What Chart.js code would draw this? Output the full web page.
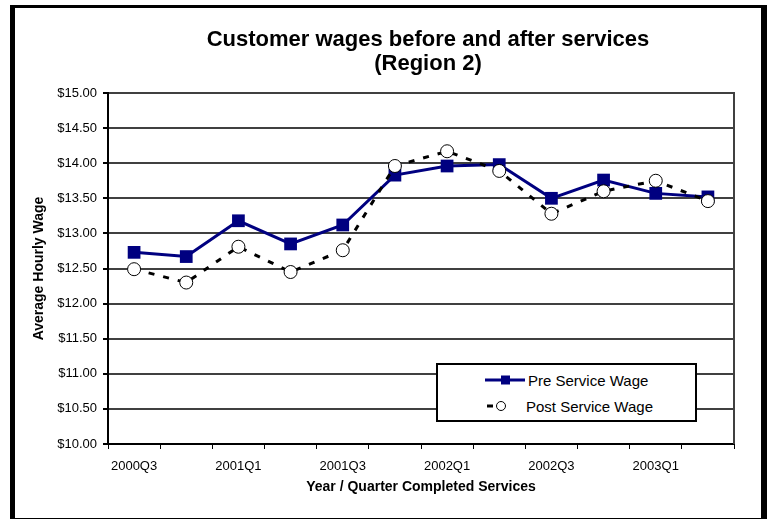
<!DOCTYPE html>
<html>
<head>
<meta charset="utf-8">
<script src="https://cdn.jsdelivr.net/npm/chart.js@4"></script>
<style>
  body { margin: 0; background: #fff; font-family: "Liberation Sans", Arial, sans-serif; }
  #wrap { position: relative; width: 767px; height: 519px; }
  #frame { position: absolute; left: 10px; top: 5px; width: 757px; height: 514px; box-sizing: border-box;
    border-style: solid; border-color: #000; border-width: 3px 6px 1px 5px; pointer-events: none; }
  #legend { position: absolute; left: 436px; top: 363px; width: 261px; height: 59px; box-sizing: border-box;
    border: 2px solid #000; background: #fff; font-size: 15px; }
  .row { position: absolute; left: 0; height: 20px; display: flex; align-items: center; }
  .row svg { margin-left: 47px; }
  .row span { margin-left: 1px; }
</style>
</head>
<body>
<div id="wrap">
  <canvas id="wageChart" width="767" height="519"></canvas>
  <div id="legend">
    <div class="row" style="top:5px">
      <svg width="42" height="12"><line x1="0" y1="6" x2="40" y2="6" stroke="#000080" stroke-width="3"/><rect x="16" y="1.5" width="9" height="9" fill="#000080"/></svg>
      <span>Pre Service Wage</span>
    </div>
    <div class="row" style="top:31px">
      <svg width="42" height="12"><line x1="2" y1="6" x2="8" y2="6" stroke="#000" stroke-width="3"/><circle cx="16" cy="6" r="4.5" fill="#fff" stroke="#000" stroke-width="1"/></svg>
      <span style="margin-left:-1px">Post Service Wage</span>
    </div>
  </div>
  <div id="frame"></div>
</div>
<script>
var quarters = ['2000Q3', '2000Q4', '2001Q1', '2001Q2', '2001Q3', '2001Q4',
                '2002Q1', '2002Q2', '2002Q3', '2002Q4', '2003Q1', '2003Q2'];
var preWage  = [12.73, 12.67, 13.18, 12.85, 13.12, 13.83, 13.96, 13.98, 13.50, 13.76, 13.57, 13.52];
var postWage = [12.49, 12.30, 12.81, 12.45, 12.76, 13.96, 14.17, 13.89, 13.28, 13.60, 13.75, 13.46];
var titleLines = ['Customer wages before and after services', '(Region 2)'];

var FONT = '"Liberation Sans", Arial, sans-serif';
Chart.defaults.font.family = FONT;
Chart.defaults.color = '#000';

var framePlugin = {
  id: 'titleText',
  beforeDatasetsDraw: function (chart) {
    // grey right edge of the plot area
    var a = chart.chartArea, ctx = chart.ctx;
    ctx.save();
    ctx.strokeStyle = '#404040';
    ctx.lineWidth = 2;
    ctx.beginPath();
    ctx.moveTo(a.right, a.top - 1);
    ctx.lineTo(a.right, a.bottom);
    ctx.stroke();
    ctx.restore();
  },
  afterDraw: function (chart) {
    var ctx = chart.ctx;
    ctx.save();
    ctx.font = 'bold 22px ' + FONT;
    ctx.fillStyle = '#000';
    ctx.textAlign = 'center';
    ctx.textBaseline = 'middle';
    ctx.fillText(titleLines[0], 428, 40);
    ctx.fillText(titleLines[1], 428, 64);
    ctx.restore();
  }
};

var ctx = document.getElementById('wageChart').getContext('2d');
var wageChart = new Chart(ctx, {
  type: 'line',
  data: {
    labels: quarters,
    datasets: [{
      label: 'Post Service Wage',
      data: postWage,
      borderColor: '#000',
      borderWidth: 3,
      borderDash: [6, 9],
      pointStyle: 'circle',
      pointRadius: 6.5,
      pointBackgroundColor: '#fff',
      pointBorderColor: '#000',
      pointBorderWidth: 1,
      tension: 0,
      order: 1
    }, {
      label: 'Pre Service Wage',
      data: preWage,
      borderColor: '#000080',
      borderWidth: 3,
      pointStyle: 'rect',
      pointRadius: 9,
      pointBackgroundColor: '#000080',
      pointBorderColor: '#000080',
      pointBorderWidth: 0,
      tension: 0,
      order: 2
    }]
  },
  options: {
    responsive: false,
    animation: false,
    layout: { padding: { left: 27, top: 93, right: 33, bottom: 19 } },
    plugins: { legend: { display: false }, tooltip: { enabled: false }, title: { display: false } },
    scales: {
      x: {
        offset: true,
        grid: {
          offset: true,
          drawOnChartArea: false,
          color: '#000',
          tickLength: 5
        },
        border: { color: '#000', width: 2 },
        ticks: {
          autoSkip: false,
          maxRotation: 0,
          padding: 10,
          font: { size: 13 },
          callback: function (v, i) { return i % 2 === 0 ? quarters[i] : ''; }
        },
        title: { display: true, text: 'Year / Quarter Completed Services', font: { size: 14, weight: 'bold' } },
        afterFit: function (s) { s.height = 56; }
      },
      y: {
        min: 10,
        max: 15,
        grid: { color: '#404040', lineWidth: 2, tickColor: '#000', tickLength: 5 },
        border: { color: '#000', width: 2 },
        ticks: {
          stepSize: 0.5,
          padding: 6,
          font: { size: 13 },
          callback: function (v) { return '$' + v.toFixed(2); }
        },
        title: { display: true, text: 'Average Hourly Wage', font: { size: 14, weight: 'bold' } },
        afterFit: function (s) { s.width = 81; }
      }
    }
  },
  plugins: [framePlugin]
});
</script>
</body>
</html>
